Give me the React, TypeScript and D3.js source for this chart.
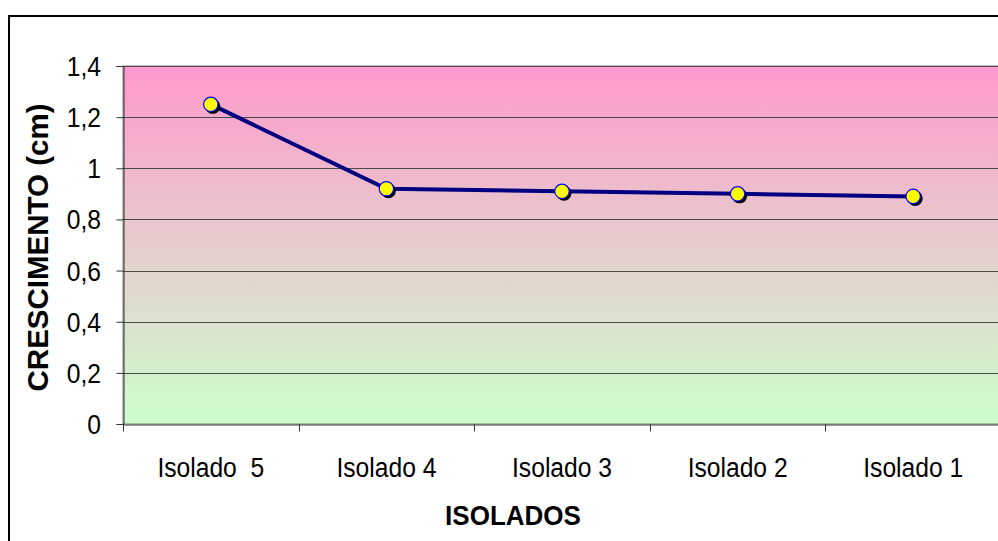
import React, { useRef, useEffect } from "react";
import * as d3 from "d3";

const categories = ["Isolado  5", "Isolado 4", "Isolado 3", "Isolado 2", "Isolado 1"];
const values = [1.25, 0.92, 0.91, 0.9, 0.89];
const yTicks = [0, 0.2, 0.4, 0.6, 0.8, 1, 1.2, 1.4];

function App() {
  const svgRef = useRef<SVGSVGElement>(null);

  useEffect(() => {
    const width = 998;
    const height = 541;
    const svg = d3.select(svgRef.current);
    svg.selectAll("*").remove();
    svg.attr("width", width).attr("height", height);

    const margin = { top: 66, left: 123 };
    const plotRight = 1001;
    const plotBottom = 424;
    const font = "Arial, 'Liberation Sans', sans-serif";

    // outer chart border
    svg.append("rect")
      .attr("x", 9).attr("y", 16)
      .attr("width", 1010).attr("height", 560)
      .attr("fill", "white")
      .attr("stroke", "black")
      .attr("stroke-width", 2);

    const defs = svg.append("defs");
    const grad = defs.append("linearGradient")
      .attr("id", "bg").attr("x1", 0).attr("y1", 0).attr("x2", 0).attr("y2", 1);
    grad.append("stop").attr("offset", "0%").attr("stop-color", "#ff99cc");
    grad.append("stop").attr("offset", "100%").attr("stop-color", "#ccffcc");

    const x = d3.scaleBand().domain(categories).range([margin.left, plotRight]);
    const y = d3.scaleLinear().domain([0, 1.4]).range([plotBottom, margin.top]);

    svg.append("rect")
      .attr("x", margin.left).attr("y", margin.top)
      .attr("width", plotRight - margin.left)
      .attr("height", plotBottom - margin.top)
      .attr("fill", "url(#bg)")
      .attr("stroke", "#808080");

    // gridlines
    svg.append("g")
      .selectAll("line")
      .data(yTicks.filter((t) => t > 0))
      .join("line")
      .attr("x1", margin.left).attr("x2", plotRight)
      .attr("y1", (d) => Math.round(y(d)) + 0.5)
      .attr("y2", (d) => Math.round(y(d)) + 0.5)
      .attr("stroke", "#4a4a4a");

    // y axis (lines only, labels drawn below)
    const yAxis = svg.append("g")
      .attr("transform", `translate(${margin.left + 0.5},0)`)
      .call(d3.axisLeft(y).tickValues(yTicks).tickSize(7).tickFormat(() => ""));
    yAxis.select(".domain").attr("stroke", "#333");
    yAxis.selectAll(".tick line").attr("stroke", "#333");

    svg.append("g")
      .selectAll("text")
      .data(yTicks)
      .join("text")
      .attr("transform", (d) => `translate(101,${y(d) + 10}) scale(0.88,1)`)
      .attr("text-anchor", "end")
      .attr("font-family", font).attr("font-size", 28).attr("fill", "black")
      .text((d) => String(d).replace(".", ","));

    // x axis
    const xAxis = svg.append("g")
      .attr("transform", `translate(0,${plotBottom + 0.5})`)
      .call(d3.axisBottom(x).tickSize(0).tickFormat(() => ""));
    xAxis.select(".domain").attr("stroke", "#333");
    xAxis.append("g")
      .selectAll("line")
      .data([...categories.map((c) => x(c) as number), plotRight])
      .join("line")
      .attr("x1", (d) => Math.round(d) + 0.5).attr("x2", (d) => Math.round(d) + 0.5)
      .attr("y1", 0).attr("y2", 7)
      .attr("stroke", "#333");

    const cx = (c: string) => (x(c) as number) + x.bandwidth() / 2;

    svg.append("g")
      .selectAll("text")
      .data(categories)
      .join("text")
      .attr("transform", (d) => `translate(${cx(d)},477) scale(0.88,1)`)
      .attr("text-anchor", "middle")
      .attr("font-family", font).attr("font-size", 28).attr("fill", "black")
      .style("white-space", "pre")
      .text((d) => d);

    const pts = categories.map((c, i) => ({ c, v: values[i] }));

    const line = d3.line<{ c: string; v: number }>()
      .x((d) => cx(d.c))
      .y((d) => y(d.v));

    svg.append("path")
      .datum(pts)
      .attr("d", line)
      .attr("fill", "none")
      .attr("stroke", "#000080")
      .attr("stroke-width", 4);

    // marker shadows
    svg.append("g")
      .selectAll("circle")
      .data(pts)
      .join("circle")
      .attr("cx", (d) => cx(d.c) + 2)
      .attr("cy", (d) => y(d.v) + 2)
      .attr("r", 7.5)
      .attr("fill", "black");

    svg.append("g")
      .selectAll("circle")
      .data(pts)
      .join("circle")
      .attr("cx", (d) => cx(d.c))
      .attr("cy", (d) => y(d.v))
      .attr("r", 7.2)
      .attr("fill", "#ffff00")
      .attr("stroke", "#0000ff")
      .attr("stroke-width", 1.2);

    svg.append("text")
      .attr("transform", "translate(513,525) scale(0.93,1)")
      .attr("text-anchor", "middle")
      .attr("font-family", font).attr("font-size", 28).attr("font-weight", "bold")
      .text("ISOLADOS");

    svg.append("text")
      .attr("transform", "translate(48,247.5) rotate(-90)")
      .attr("text-anchor", "middle")
      .attr("font-family", font).attr("font-size", 29.5).attr("font-weight", "bold")
      .text("CRESCIMENTO (cm)");
  }, []);

  return (
    <svg ref={svgRef} style={{ position: "absolute", left: 0, top: 0 }}></svg>
  );
}

export default App;
